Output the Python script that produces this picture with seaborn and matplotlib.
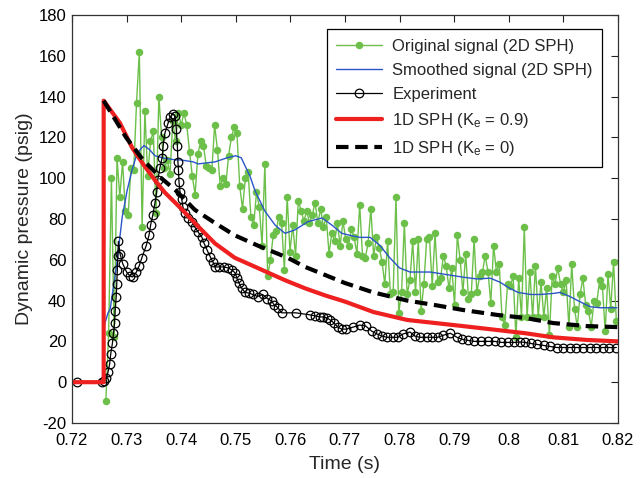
import numpy as np
import pandas as pd
import matplotlib
matplotlib.use("Agg")
import matplotlib.pyplot as plt
import seaborn as sns

# ---- 2D SPH original (noisy) pressure signal, sampled on a uniform time grid ----
orig_pressure = [
    -9, 24, 100, 22, 110, 91, 108, 84, 82, 105, 104, 137, 162, 76, 133,
    101, 118, 123, 83, 140, 120, 105, 109, 102, 128, 118, 132, 126,
    132, 126, 113, 101, 92, 112, 118, 116, 106, 105, 104, 126, 114, 96, 100, 97,
    111, 120, 125, 122, 96, 85, 100,
    103, 81, 77, 93, 86, 67, 107, 52, 60, 72, 74, 81, 78, 55, 91, 64, 77, 62, 89,
    84, 79, 84, 78, 82, 88, 78, 85, 76, 81, 63, 73, 69,
    78, 67, 79, 70, 67, 75, 71, 63, 87, 62, 61, 68, 85, 62, 71, 66, 59, 48, 69, 43,
    44, 91, 34, 44, 78, 43, 50, 69, 44, 70, 35, 48, 70,
    71, 47, 73, 49, 51, 62, 57, 46, 56, 38, 72, 60, 44, 63, 41, 43, 70, 44, 52, 54,
    62, 54, 39, 67, 54, 58, 32, 28, 48, 47, 52, 22,
    51, 32, 76, 32, 54, 32, 57, 32, 49, 32, 46, 23, 52, 48, 56, 48, 44, 50, 27, 58,
    36, 27, 43, 51, 38, 35, 27, 40, 39, 50, 47, 25, 53, 36, 59, 30,
]
orig_t_start, orig_t_end = 0.7262, 0.8197

# ---- 2D SPH smoothed signal ----
smooth_time = [
    0.7257, 0.7266, 0.7270, 0.7282, 0.7292, 0.7301, 0.7310, 0.7319, 0.7328, 0.7332,
    0.7342, 0.7352, 0.7365, 0.7389, 0.7398, 0.7422, 0.7431, 0.7462, 0.7484, 0.7500,
    0.7510, 0.7517, 0.7526, 0.7535, 0.7544, 0.7553, 0.7572, 0.7590, 0.7608, 0.7632,
    0.7658, 0.7676, 0.7694, 0.7709, 0.7727, 0.7746, 0.7764, 0.7782, 0.7800, 0.7819,
    0.7856, 0.7892, 0.7916, 0.7942, 0.7966, 0.7984, 0.8002, 0.8017, 0.8040, 0.8057,
    0.8081, 0.8094, 0.8112, 0.8130, 0.8149, 0.8167, 0.8198,
]
smooth_pressure = [
    26, 34, 36, 58, 81, 94, 104, 112, 115, 116,
    114, 111, 110, 109, 109, 108, 107, 108, 110, 111,
    110, 106, 101, 94, 89, 84, 77, 73, 74.6, 78.7,
    80.5, 77, 73, 72, 71, 71, 67, 61, 56, 54,
    54, 52.5, 51.5, 50.6, 51, 49, 46, 44, 43, 43,
    43.5, 44, 42, 39.5, 37, 36.5, 36.5,
]

# ---- Experimental pressure record ----
exp_time = [
    0.7209, 0.7255, 0.7259, 0.7263, 0.7266, 0.7269, 0.7271, 0.7274, 0.7276, 0.7278,
    0.7279, 0.7281, 0.7282, 0.7283, 0.7284, 0.7285, 0.7288, 0.7293, 0.7300, 0.7306,
    0.7311, 0.7318, 0.7323, 0.7328, 0.7336, 0.7341, 0.7344, 0.7348, 0.7352, 0.7355,
    0.7357, 0.7361, 0.7365, 0.7367, 0.7370, 0.7376, 0.7380, 0.7385, 0.7389, 0.7391,
    0.7393, 0.7394, 0.7395, 0.7396, 0.7398, 0.7401, 0.7403, 0.7407, 0.7412, 0.7420,
    0.7425, 0.7431, 0.7438, 0.7442, 0.7447, 0.7453, 0.7458, 0.7462, 0.7469, 0.7478,
    0.7486, 0.7493, 0.7499, 0.7502, 0.7506, 0.7511, 0.7517, 0.7524, 0.7531, 0.7540,
    0.7549, 0.7558, 0.7566, 0.7570, 0.7577, 0.7584, 0.7610, 0.7636, 0.7645, 0.7654,
    0.7660, 0.7667, 0.7673, 0.7680, 0.7687, 0.7694, 0.7702, 0.7715, 0.7727, 0.7738,
    0.7749, 0.7759, 0.7768, 0.7777, 0.7788, 0.7797, 0.7806, 0.7819, 0.7828, 0.7837,
    0.7850, 0.7860, 0.7870, 0.7880, 0.7893, 0.7905, 0.7915, 0.7925, 0.7937, 0.7950,
    0.7962, 0.7974, 0.7986, 0.7998, 0.8010, 0.8021, 0.8030, 0.8040, 0.8052, 0.8064,
    0.8076, 0.8088, 0.8100, 0.8112, 0.8124, 0.8136, 0.8148, 0.8160, 0.8172, 0.8184,
    0.8197,
]
exp_pressure = [
    0, 0, 0.5, 2, 5, 9, 14, 19, 24, 29,
    35, 42, 48, 55, 62, 69, 63, 58, 54, 52,
    51.6, 54, 57, 61, 67, 72, 77, 82, 88, 93,
    99, 105, 110, 116, 122, 127, 130, 131.5, 130.5, 124,
    116, 108, 104, 98, 93, 89.7, 86, 83, 80.5, 78.6,
    76, 73.6, 71, 68, 65, 61.6, 59, 56.5, 56.5, 56.5,
    56, 55, 53.5, 51, 48.6, 46, 44, 43.7, 43, 42,
    43, 41, 39.7, 38, 36.6, 34, 34, 33, 32.5, 32,
    32, 31.5, 30.5, 29, 27, 26, 26, 27, 28, 27.5,
    25, 23.6, 22.6, 22, 22, 22, 23.6, 24.6, 22.6, 22,
    22, 22, 22, 23, 24, 22, 21, 20.5, 20, 20,
    20, 20, 19.5, 19.5, 19.5, 19.7, 19.5, 19, 18.5, 18,
    17.5, 17, 17, 17, 17, 17, 17, 17, 17, 17,
    17,
]

# ---- 1D SPH, Ke = 0.9 ----
sph09_time = [
    0.7200, 0.7258, 0.7258, 0.7288, 0.7310, 0.7330, 0.7352, 0.7370, 0.7398, 0.7425,
    0.7462, 0.7498, 0.7540, 0.7590, 0.7627, 0.7664, 0.7700, 0.7752, 0.7814, 0.7865,
    0.7916, 0.7978, 0.8030, 0.8081, 0.8143, 0.8200,
]
sph09_pressure = [
    0, 0, 138, 127, 115, 107, 99, 93, 85.6, 78,
    68, 61, 56, 50, 46, 42.5, 39.5, 34.4, 30.5, 29,
    27.5, 25.6, 24, 22, 20.7, 20,
]

# ---- 1D SPH, Ke = 0 ----
sph0_time = [
    0.7258, 0.7299, 0.7330, 0.7361, 0.7390, 0.7425, 0.7462, 0.7498,
    0.7540, 0.7595, 0.7627, 0.7664, 0.7700, 0.7752, 0.7814, 0.7865, 0.7916, 0.7978,
    0.8030, 0.8081, 0.8143, 0.8200,
]
sph0_pressure = [
    138, 120, 109, 100.6, 94, 84.5, 78, 72,
    67, 61, 56.5, 52.5, 48.6, 44, 40, 37.8, 35.4, 33,
    31.5, 29, 27.5, 27,
]

x_ticks = [0.72, 0.73, 0.74, 0.75, 0.76, 0.77, 0.78, 0.79, 0.80, 0.81, 0.82]
x_tick_labels = ["0.72", "0.73", "0.74", "0.75", "0.76", "0.77", "0.78", "0.79", "0.8", "0.81", "0.82"]
y_ticks = [-20, 0, 20, 40, 60, 80, 100, 120, 140, 160, 180]

sns.set_theme(style="white")
plt.rcParams["font.family"] = ["Liberation Sans", "DejaVu Sans"]
plt.rcParams["mathtext.fontset"] = "custom"
plt.rcParams["mathtext.rm"] = "Liberation Sans"
plt.rcParams["mathtext.it"] = "Liberation Sans"
plt.rcParams["axes.unicode_minus"] = False

fig = plt.figure(figsize=(6.44, 4.78), dpi=100)
ax = fig.add_axes([0.1118, 0.1151, 0.8478, 0.8535])

orig_time = np.linspace(orig_t_start, orig_t_end, len(orig_pressure))
df_orig = pd.DataFrame({"t": orig_time, "p": orig_pressure})
df_smooth = pd.DataFrame({"t": smooth_time, "p": smooth_pressure})
df_exp = pd.DataFrame({"t": exp_time, "p": exp_pressure})
df_09 = pd.DataFrame({"t": sph09_time, "p": sph09_pressure})
df_0 = pd.DataFrame({"t": sph0_time, "p": sph0_pressure})

sns.lineplot(data=df_orig, x="t", y="p", ax=ax, sort=False, estimator=None,
             color="#6cc04a", lw=1.0, marker="o", markersize=5.4,
             markeredgewidth=0, label="Original signal (2D SPH)")
sns.lineplot(data=df_smooth, x="t", y="p", ax=ax, sort=False, estimator=None,
             color="#2a55c8", lw=1.0, label="Smoothed signal (2D SPH)")
sns.lineplot(data=df_exp, x="t", y="p", ax=ax, sort=False, estimator=None,
             color="black", lw=0.9, marker="o", markersize=6.2,
             markerfacecolor="none", markeredgecolor="black", markeredgewidth=0.9,
             label="Experiment")
sns.lineplot(data=df_09, x="t", y="p", ax=ax, sort=False, estimator=None,
             color="#ee2020", lw=3.0, label="1D SPH (K$_e$ = 0.9)")
sns.lineplot(data=df_0, x="t", y="p", ax=ax, sort=False, estimator=None,
             color="black", lw=3.0, linestyle=(0, (3, 1.6)), label="1D SPH (K$_e$ = 0)")

ax.set_xlim(0.72, 0.82)
ax.set_ylim(-20, 180)
ax.set_xticks(x_ticks)
ax.set_xticklabels(x_tick_labels)
ax.set_yticks(y_ticks)
ax.tick_params(direction="in", length=5, width=0.8, top=True, right=True,
               labelsize=12, colors="#222222", labelcolor="black")
ax.tick_params(axis="x", pad=7)
ax.tick_params(axis="y", pad=4)
for s in ax.spines.values():
    s.set_color("#333333")
    s.set_linewidth(0.9)
ax.set_xlabel("Time (s)", fontsize=14, labelpad=6)
ax.set_ylabel("Dynamic pressure (psig)", fontsize=14, labelpad=4)

leg = ax.legend(loc="upper right", bbox_to_anchor=(0.986, 0.985), fontsize=12,
                frameon=True, fancybox=False, framealpha=1, edgecolor="black",
                handlelength=2.8, labelspacing=0.55, borderpad=0.55, handletextpad=0.6)
leg.get_frame().set_linewidth(0.9)

fig.savefig("out.png", dpi=100)
